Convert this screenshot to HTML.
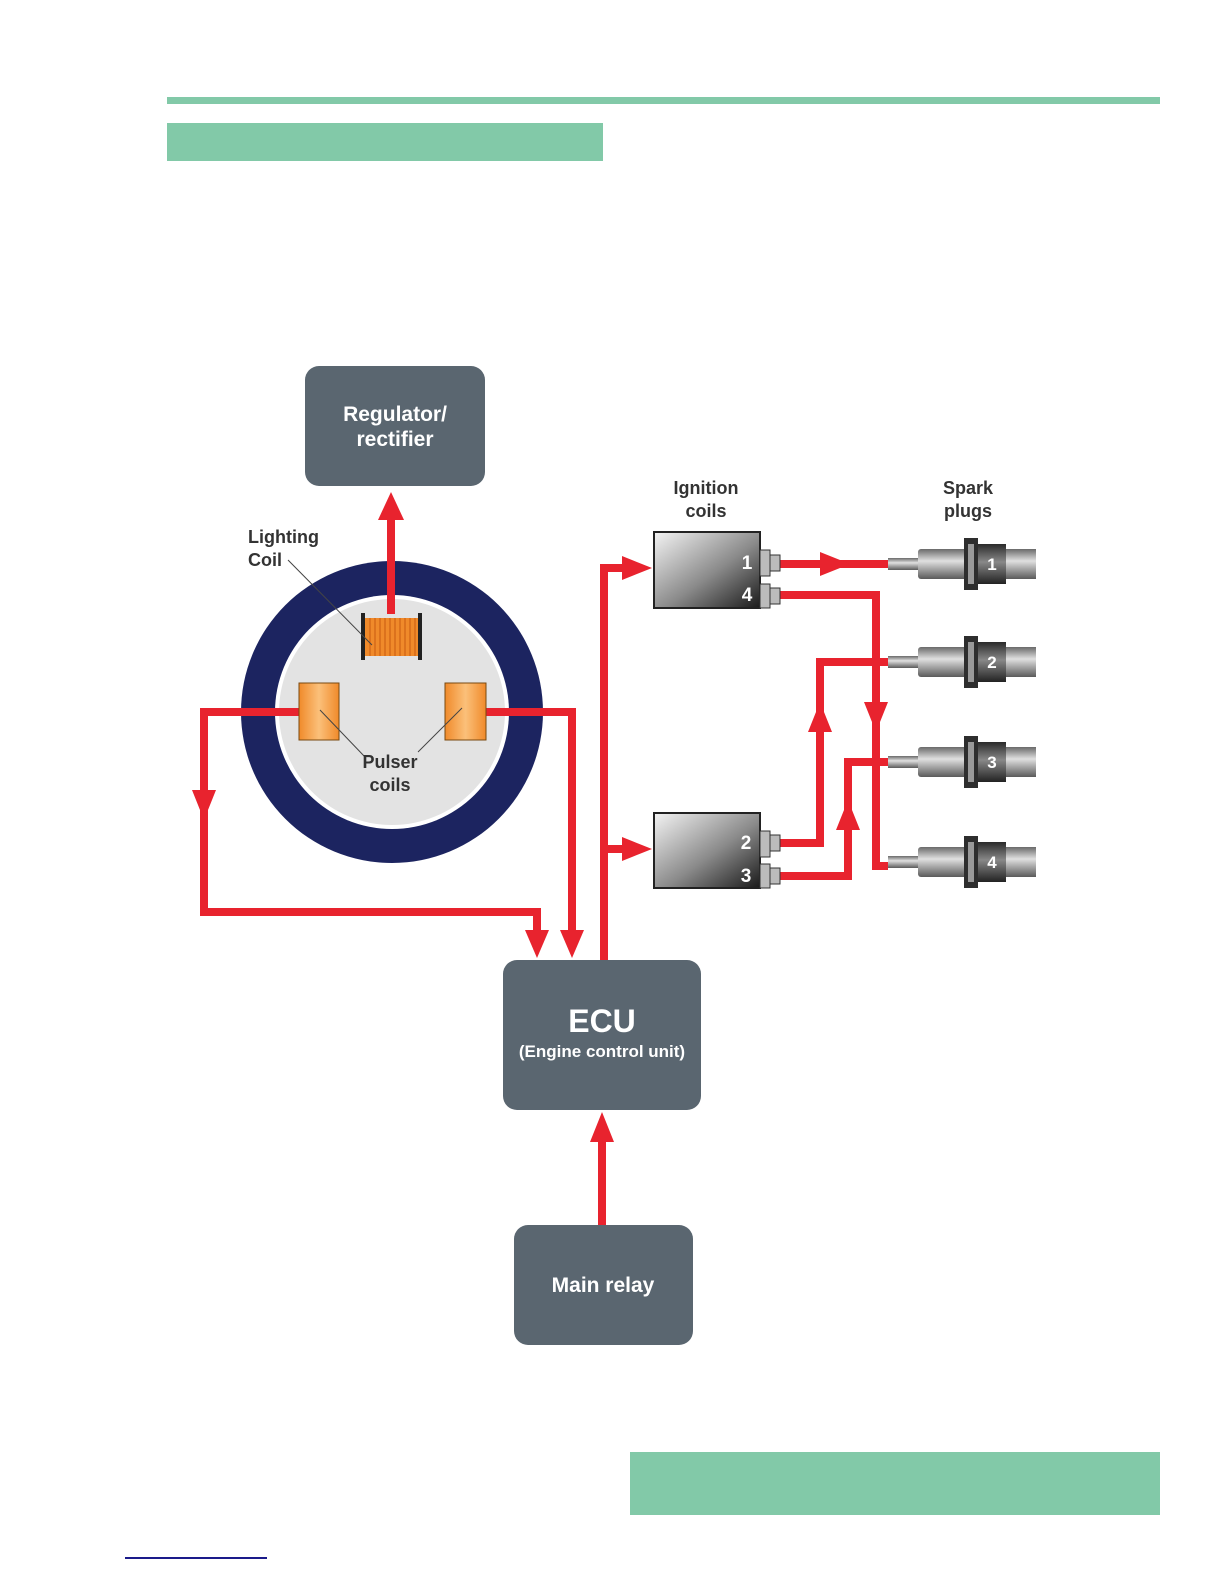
<!DOCTYPE html>
<html><head><meta charset="utf-8"><style>
html,body{margin:0;padding:0;background:#fff;overflow:hidden;width:1224px;height:1584px;}
svg{display:block;position:absolute;left:0;top:0;}
text{font-family:"Liberation Sans",sans-serif;}
</style></head><body>
<svg width="1224" height="1584" viewBox="0 0 1224 1584" xmlns="http://www.w3.org/2000/svg">
<defs>
<linearGradient id="cg" x1="0" y1="0" x2="1" y2="1">
<stop offset="0" stop-color="#f4f4f4"/><stop offset="0.55" stop-color="#8a8a8a"/><stop offset="1" stop-color="#1a1a1a"/>
</linearGradient>
<linearGradient id="og" x1="0" y1="0" x2="1" y2="0">
<stop offset="0" stop-color="#f08a2a"/><stop offset="0.5" stop-color="#fbc07a"/><stop offset="1" stop-color="#f08a2a"/>
</linearGradient>
<linearGradient id="sg" x1="0" y1="0" x2="0" y2="1">
<stop offset="0" stop-color="#6a6a6a"/><stop offset="0.4" stop-color="#e0e0e0"/><stop offset="1" stop-color="#5a5a5a"/>
</linearGradient>
<linearGradient id="dg" x1="0" y1="0" x2="0" y2="1">
<stop offset="0" stop-color="#2a2a2a"/><stop offset="0.45" stop-color="#888"/><stop offset="1" stop-color="#222"/>
</linearGradient>
<g id="plug">
<rect x="0" y="-6" width="32" height="12" fill="url(#sg)"/>
<rect x="30" y="-15" width="50" height="30" rx="3" fill="url(#sg)"/>
<rect x="76" y="-26" width="14" height="52" fill="#2e2e2e"/>
<rect x="80" y="-20" width="6" height="40" fill="#9a9a9a"/>
<rect x="90" y="-20" width="28" height="40" fill="url(#dg)"/>
<rect x="118" y="-15" width="30" height="30" fill="url(#sg)"/>
</g>
</defs>
<rect x="167" y="97" width="993" height="7" fill="#82c9a8"/>
<rect x="167" y="123" width="436" height="38" fill="#82c9a8"/>
<rect x="630" y="1452" width="530" height="63" fill="#82c9a8"/>
<rect x="125" y="1557" width="142" height="2" fill="#1a1a8a"/>

<rect x="305" y="366" width="180" height="120" rx="14" fill="#5a6670"/>
<text x="395" y="421" fill="#fff" font-size="21" font-weight="bold" text-anchor="middle">Regulator/</text>
<text x="395" y="446" fill="#fff" font-size="21" font-weight="bold" text-anchor="middle">rectifier</text>
<rect x="503" y="960" width="198" height="150" rx="14" fill="#5a6670"/>
<text x="602" y="1032" fill="#fff" font-size="32" font-weight="bold" text-anchor="middle">ECU</text>
<text x="602" y="1057" fill="#fff" font-size="17" font-weight="bold" text-anchor="middle">(Engine control unit)</text>
<rect x="514" y="1225" width="179" height="120" rx="14" fill="#5a6670"/>
<text x="603" y="1292" fill="#fff" font-size="21" font-weight="bold" text-anchor="middle">Main relay</text>

<circle cx="392" cy="712" r="151" fill="#1c2460"/>
<circle cx="392" cy="712" r="117" fill="#fff"/>
<circle cx="392" cy="712" r="113" fill="#e3e3e3"/>

<g stroke="#e8232e" stroke-width="8" fill="none">
<path d="M391 614 V515"/>
<path d="M299 712 H204 V912 H537 V935"/>
<path d="M486 712 H572 V935"/>
<path d="M604 960 V568 H625"/>
<path d="M604 849 H625"/>
<path d="M602 1225 V1140"/>
<path d="M780 564 H888"/>
<path d="M780 595 H876 V866 H888"/>
<path d="M780 843 H820 V662 H888"/>
<path d="M780 876 H848 V762 H888"/>
</g>
<g fill="#e8232e">
<polygon points="391,492 378,520 404,520"/>
<polygon points="204,820 192,790 216,790"/>
<polygon points="537,958 525,930 549,930"/>
<polygon points="572,958 560,930 584,930"/>
<polygon points="652,568 622,556 622,580"/>
<polygon points="652,849 622,837 622,861"/>
<polygon points="602,1112 590,1142 614,1142"/>
<polygon points="850,564 820,552 820,576"/>
<polygon points="876,732 864,702 888,702"/>
<polygon points="820,702 808,732 832,732"/>
<polygon points="848,800 836,830 860,830"/>
</g>

<rect x="299" y="683" width="40" height="57" fill="url(#og)" stroke="#7a4a10" stroke-width="1"/>
<rect x="445" y="683" width="41" height="57" fill="url(#og)" stroke="#7a4a10" stroke-width="1"/>
<rect x="364" y="618" width="55" height="38" fill="#f08a2a"/>
<g stroke="#c85a10" stroke-width="1">
<path d="M370 618V656M375 618V656M380 618V656M385 618V656M390 618V656M395 618V656M400 618V656M405 618V656M410 618V656M415 618V656"/>
</g>
<rect x="361" y="613" width="4" height="47" fill="#222"/>
<rect x="418" y="613" width="4" height="47" fill="#222"/>
<g stroke="#444" stroke-width="1">
<path d="M288 560 L372 645"/>
<path d="M320 710 L365 757"/>
<path d="M462 708 L418 752"/>
</g>
<text x="248" y="543" font-size="18" fill="#333" font-weight="bold">Lighting</text>
<text x="248" y="566" font-size="18" fill="#333" font-weight="bold">Coil</text>
<text x="390" y="768" font-size="18" fill="#333" font-weight="bold" text-anchor="middle">Pulser</text>
<text x="390" y="791" font-size="18" fill="#333" font-weight="bold" text-anchor="middle">coils</text>

<rect x="654" y="532" width="106" height="76" fill="url(#cg)" stroke="#222" stroke-width="2"/>
<rect x="654" y="813" width="106" height="75" fill="url(#cg)" stroke="#222" stroke-width="2"/>
<g fill="#bbb" stroke="#333" stroke-width="1">
<rect x="760" y="550" width="10" height="26"/><rect x="770" y="555" width="10" height="16"/>
<rect x="760" y="584" width="10" height="24"/><rect x="770" y="588" width="10" height="16"/>
<rect x="760" y="831" width="10" height="26"/><rect x="770" y="835" width="10" height="16"/>
<rect x="760" y="864" width="10" height="24"/><rect x="770" y="868" width="10" height="16"/>
</g>
<g fill="#fff" font-size="19" font-weight="bold" text-anchor="middle">
<text x="747" y="569">1</text><text x="747" y="601">4</text>
<text x="746" y="849">2</text><text x="746" y="882">3</text>
</g>
<text x="706" y="494" font-size="18" fill="#333" font-weight="bold" text-anchor="middle">Ignition</text>
<text x="706" y="517" font-size="18" fill="#333" font-weight="bold" text-anchor="middle">coils</text>
<text x="968" y="494" font-size="18" fill="#333" font-weight="bold" text-anchor="middle">Spark</text>
<text x="968" y="517" font-size="18" fill="#333" font-weight="bold" text-anchor="middle">plugs</text>

<use href="#plug" x="888" y="564"/>
<use href="#plug" x="888" y="662"/>
<use href="#plug" x="888" y="762"/>
<use href="#plug" x="888" y="862"/>
<g fill="#fff" font-size="17" font-weight="bold" text-anchor="middle">
<text x="992" y="570">1</text><text x="992" y="668">2</text>
<text x="992" y="768">3</text><text x="992" y="868">4</text>
</g>
</svg>
</body></html>
